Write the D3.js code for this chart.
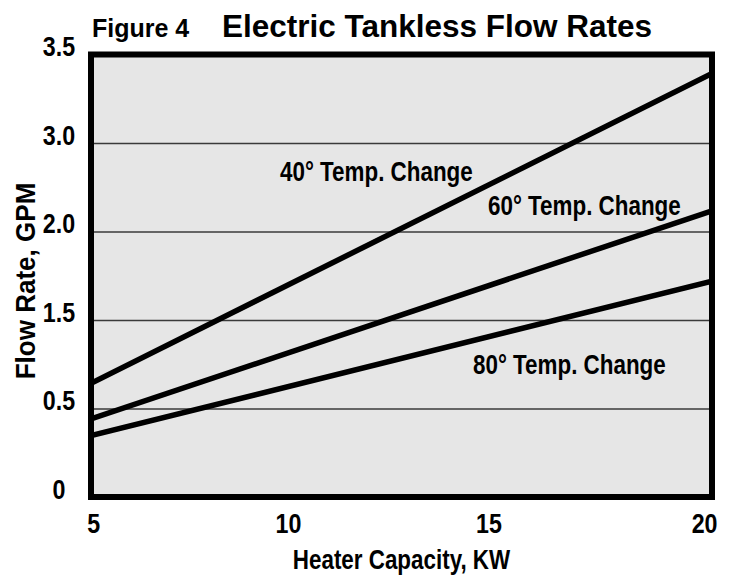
<!DOCTYPE html>
<html>
<head>
<meta charset="utf-8">
<script src="https://d3js.org/d3.v7.min.js"></script>
<style>
  body { margin: 0; background: #fff; }
  text { font-family: "Liberation Sans", Arial, sans-serif; font-weight: bold; fill: #000; }
</style>
</head>
<body>
<svg id="chart"></svg>
<script>
// heater capacity (KW) at the two ends of each line
var capacity = [5, 20];
// flow rate (GPM)
var temp40 = [0.90, 3.35];
var temp60 = [0.617, 2.264];
var temp80 = [0.485, 1.708];
var seriesNames = ["40\u00B0 Temp. Change", "60\u00B0 Temp. Change", "80\u00B0 Temp. Change"];

var xTicks = [5, 10, 15, 20];
var yTicks = [0, 0.7, 1.4, 2.1, 2.8, 3.5];
var yTickLabels = ["0", "0.5", "1.5", "2.0", "3.0", "3.5"];

var WIDTH = 733, HEIGHT = 578,
    MARGINS = { top: 54.5, right: 21, bottom: 81, left: 91 };

var svg = d3.select('#chart')
    .attr('width', WIDTH)
    .attr('height', HEIGHT);

var xScale = d3.scaleLinear().range([MARGINS.left, WIDTH - MARGINS.right]).domain([5, 20]),
    yScale = d3.scaleLinear().range([HEIGHT - MARGINS.bottom, MARGINS.top]).domain([0, 3.5]);

// the original uses a condensed face; squeeze the regular one horizontally
function squeeze(sel, k) {
    sel.each(function() {
        var t = d3.select(this);
        var x = +t.attr('x') || 0, y = +t.attr('y') || 0;
        t.attr('x', 0).attr('y', 0)
         .attr('transform', 'translate(' + x + ',' + y + ') scale(' + k + ',1)');
    });
}

// plot background
svg.append('rect')
   .attr('x', xScale(5))
   .attr('y', yScale(3.5))
   .attr('width', xScale(20) - xScale(5))
   .attr('height', yScale(0) - yScale(3.5))
   .attr('fill', '#e6e6e6');

svg.append('clipPath').attr('id', 'plotclip')
   .append('rect')
   .attr('x', xScale(5))
   .attr('y', yScale(3.5))
   .attr('width', xScale(20) - xScale(5))
   .attr('height', yScale(0) - yScale(3.5));

// gridlines
var yGrid = d3.axisLeft(yScale)
    .tickValues(yTicks.slice(1, -1))
    .tickSize(-(xScale(20) - xScale(5)))
    .tickFormat('');

svg.append('g')
   .attr('class', 'grid')
   .attr('transform', 'translate(' + xScale(5) + ',0)')
   .call(yGrid)
   .call(function(g) { g.select('.domain').remove(); })
   .call(function(g) { g.selectAll('line').attr('stroke', '#3a3a3a').attr('stroke-width', 1.5); });

// lines
var lineGen = d3.line()
    .x(function(d) { return xScale(d[0]); })
    .y(function(d) { return yScale(d[1]); });

[temp40, temp60, temp80].forEach(function(vals) {
    svg.append('path')
       .attr('d', lineGen(d3.zip(capacity, vals)))
       .attr('clip-path', 'url(#plotclip)')
       .attr('stroke', '#000')
       .attr('stroke-width', 5.5)
       .attr('fill', 'none');
});

// frame
svg.append('rect')
   .attr('x', xScale(5))
   .attr('y', yScale(3.5))
   .attr('width', xScale(20) - xScale(5))
   .attr('height', yScale(0) - yScale(3.5))
   .attr('fill', 'none')
   .attr('stroke', '#000')
   .attr('stroke-width', 6);

// x axis labels
var xAxis = d3.axisBottom(xScale)
    .tickValues(xTicks)
    .tickSize(0)
    .tickPadding(0)
    .tickFormat(d3.format('d'));

svg.append('g')
   .attr('class', 'axis')
   .attr('transform', 'translate(0,' + yScale(0) + ')')
   .call(xAxis)
   .call(function(g) { g.select('.domain').remove(); })
   .call(function(g) {
       g.selectAll('text')
        .attr('y', 36).attr('dy', 0)
        .style('font-size', '28px')
        .attr('font-family', null)
        .attr('text-anchor', function(d) { return d === 5 ? 'start' : d === 20 ? 'end' : 'middle'; })
        .attr('dx', function(d) { return d === 5 ? -5 : d === 20 ? 6 : d === 10 ? -12 : -20; })
        .call(squeeze, 0.83);
   });

// y axis labels
var yAxis = d3.axisLeft(yScale)
    .tickValues(yTicks)
    .tickSize(0)
    .tickPadding(0)
    .tickFormat(function(d, i) { return yTickLabels[i]; });

svg.append('g')
   .attr('class', 'axis')
   .attr('transform', 'translate(59,0)')
   .call(yAxis)
   .call(function(g) { g.select('.domain').remove(); })
   .call(function(g) {
       g.selectAll('text')
        .attr('x', 0).attr('dy', 0)
        .attr('y', 1)
        .attr('font-family', null)
        .attr('text-anchor', 'middle')
        .style('font-size', '28px')
        .call(squeeze, 0.83);
   });

// titles
svg.append('text')
   .attr('x', 92).attr('y', 37)
   .style('font-size', '25px')
   .text('Figure 4');

svg.append('text')
   .attr('x', 222).attr('y', 37)
   .style('font-size', '31.5px')
   .text('Electric Tankless Flow Rates');

svg.append('text')
   .attr('x', (xScale(5) + xScale(20)) / 2).attr('y', 569)
   .attr('text-anchor', 'middle')
   .style('font-size', '28px')
   .text('Heater Capacity, KW')
   .call(squeeze, 0.8);

svg.append('text')
   .attr('transform', 'translate(35,281) rotate(-90) scale(0.93,1)')
   .attr('text-anchor', 'middle')
   .style('font-size', '28px')
   .text('Flow Rate, GPM');

// series labels
var labelPos = [[280, 181], [488, 215], [473, 374]];
svg.selectAll('.label')
   .data(seriesNames)
   .enter().append('text')
   .attr('class', 'label')
   .attr('x', function(d, i) { return labelPos[i][0]; })
   .attr('y', function(d, i) { return labelPos[i][1]; })
   .style('font-size', '27px')
   .text(function(d) { return d; })
   .call(squeeze, 0.83);
</script>
</body>
</html>
